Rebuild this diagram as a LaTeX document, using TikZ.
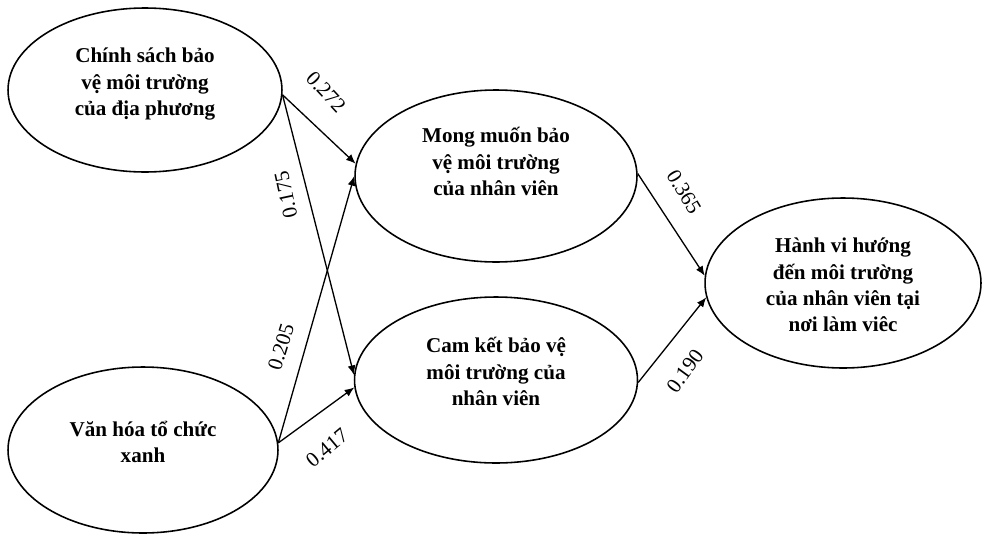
\documentclass[tikz,border=0pt]{standalone}
\usepackage{fontspec}
\setmainfont{Liberation Serif}
\usetikzlibrary{shapes.geometric,arrows.meta}
% text block raised inside an ellipse
\newcommand{\lifted}[2]{\raisebox{#1}[0pt][0pt]{\begin{tabular}{@{}c@{}}#2\end{tabular}}}
\begin{document}
\begin{tikzpicture}[x=0.02cm, y=-0.02cm,
        construct/.style={draw, ellipse, line width=.9pt, inner sep=0pt,
            font=\bfseries\fontsize{12}{15}\selectfont},
        link/.style={line width=.75pt, -{Latex[length=5.5pt,width=4.5pt]}},
        coef/.style={font=\fontsize{12}{14}\selectfont, inner sep=0pt}]
                \useasboundingbox (0,0) rectangle (982,534);

                % constructs
                \node[construct, minimum width=5.48cm, minimum height=3.28cm] (policy) at (145,90)
                    {\lifted{0.4pt}{Chính sách bảo\\vệ môi trường\\của địa phương}};
                \node[construct, minimum width=5.40cm, minimum height=3.32cm] (culture) at (143,450)
                    {\lifted{0.4pt}{Văn hóa tổ chức\\xanh}};
                \node[construct, minimum width=5.64cm, minimum height=3.44cm] (wish) at (496,176)
                    {\lifted{3.8pt}{Mong muốn bảo\\vệ môi trường\\của nhân viên}};
                \node[construct, minimum width=5.66cm, minimum height=3.32cm] (commit) at (496,380)
                    {\lifted{0.4pt}{Cam kết bảo vệ\\môi trường của\\nhân viên}};
                \node[construct, minimum width=5.52cm, minimum height=3.40cm] (behave) at (843,283)
                    {\lifted{-5.3pt}{Hành vi hướng\\đến môi trường\\của nhân viên tại\\nơi làm viêc}};

                % paths
                \draw[link] (policy.-2) -- (wish.175);
                \draw[link] (policy.-2) -- (commit.178);
                \draw[link] (culture.3) -- (wish.180);
                \draw[link] (culture.3) -- (commit.183);
                \draw[link] (wish.1) -- (behave.177);
                \draw[link] (commit.-1) -- (behave.186);

                % coefficients
                \node[coef, rotate=-47] (c272) at (326,92) {0.272};
                \node[coef, rotate=102] (c175) at (286,195) {0.175};
                \node[coef, rotate=73] (c205) at (281,347) {0.205};
                \node[coef, rotate=40] (c417) at (327,448) {0.417};
                \node[coef, rotate=-59] (c365) at (684,192) {0.365};
                \node[coef, rotate=54] (c190) at (685,371) {0.190};
\end{tikzpicture}
\end{document}
